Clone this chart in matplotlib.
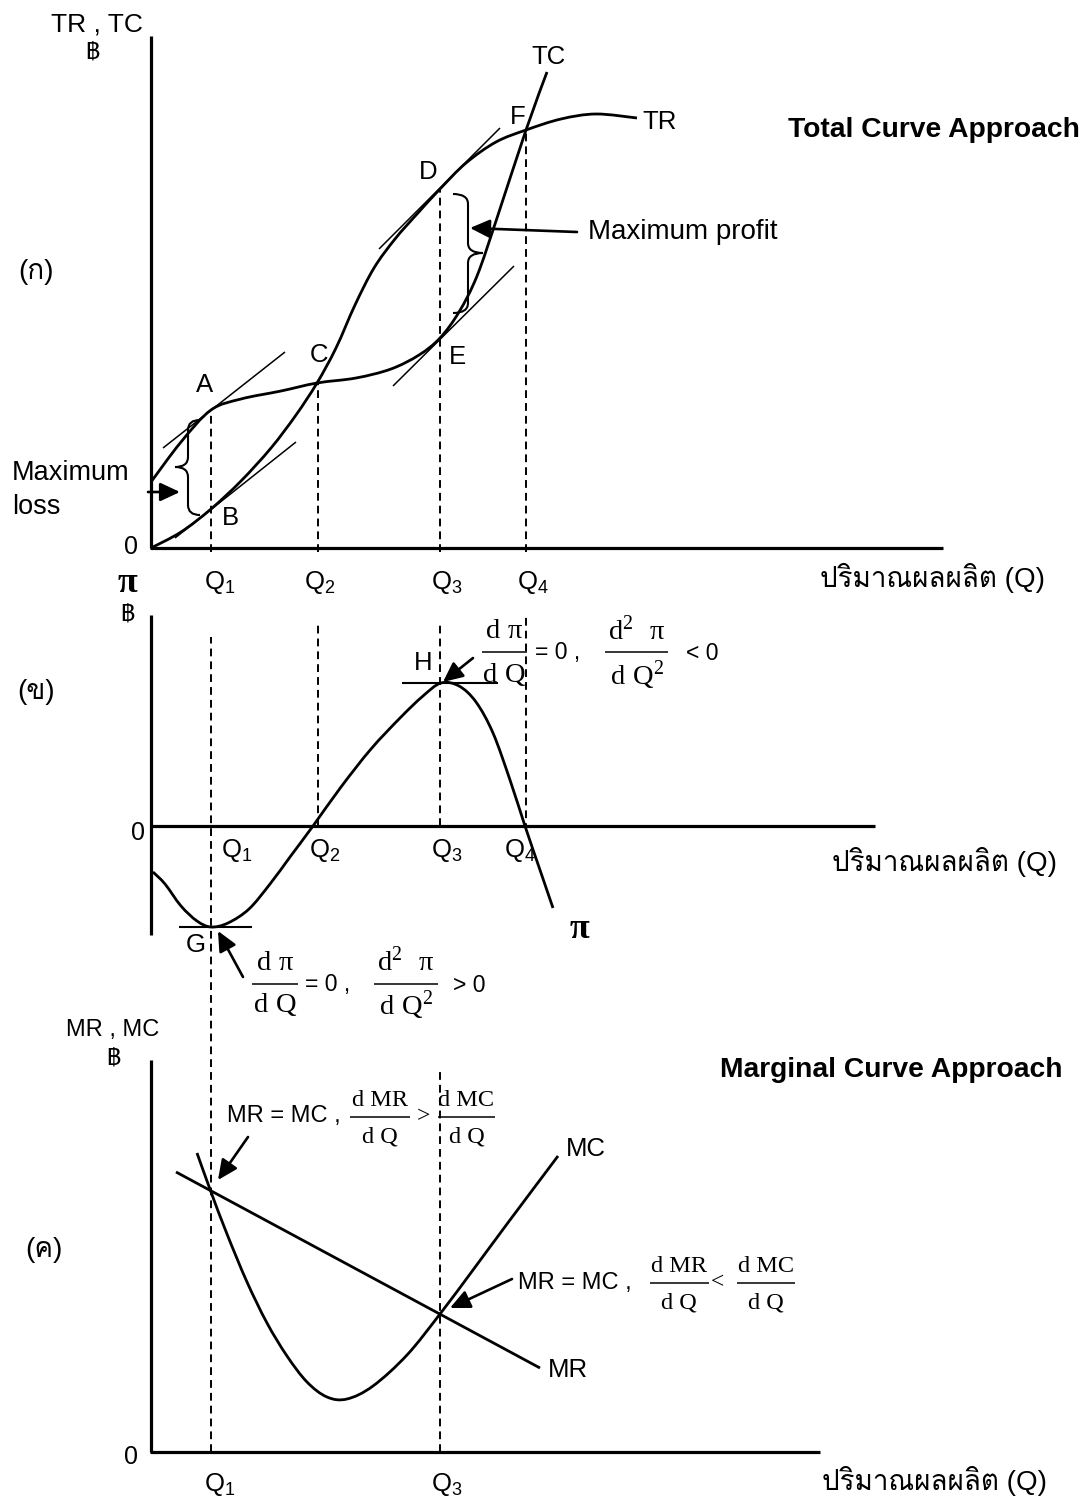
import numpy as np
import matplotlib
matplotlib.use("Agg")
import matplotlib.pyplot as plt
from matplotlib.path import Path
from matplotlib.patches import PathPatch

plt.rcParams['font.family'] = ['Liberation Sans', 'Loma', 'DejaVu Sans']
plt.rcParams['mathtext.fontset'] = 'custom'
plt.rcParams['mathtext.rm'] = 'Liberation Sans'
plt.rcParams['mathtext.it'] = 'Liberation Sans:italic'
plt.rcParams['mathtext.sf'] = 'Liberation Serif'
SERIF = ['Liberation Serif', 'DejaVu Serif']

# output levels marked on the Q axis
q_names = ['Q$_{1}$', 'Q$_{2}$', 'Q$_{3}$', 'Q$_{4}$']
q_pos = [6.0, 16.7, 28.9, 37.5]
q_axis_label = 'ปริมาณผลผลิต (Q)'

# total cost (starts at the fixed cost) and total revenue
tc_q = [0.0, 3.0, 6.0, 9.0, 13.0, 16.6, 20.5, 24.0, 26.8, 28.9, 30.8, 32.6, 34.6,
        37.5, 39.6]
tc_val = [6.6, 10.6, 13.8, 14.9, 15.7, 16.5, 17.0, 17.9, 19.3, 21.0, 23.6, 27.2, 33.0,
          41.8, 47.6]
tr_q = [0.0, 3.0, 6.0, 9.0, 12.0, 14.5, 16.6, 18.5, 20.4, 22.3, 24.4, 26.6, 28.9,
        31.5, 34.5, 37.5, 41.0, 44.5, 48.6]
tr_val = [0.0, 1.6, 3.9, 6.7, 10.0, 13.3, 16.5, 20.0, 24.3, 28.0, 30.9, 33.4, 35.9,
          38.5, 40.6, 41.8, 42.9, 43.4, 43.0]

# profit = TR - TC
pi_q = [0.2, 1.4, 3.0, 4.6, 6.0, 7.7, 9.8, 11.9, 13.9, 16.2, 19.0, 22.0, 25.0,
        27.2, 29.0, 30.8, 32.5, 34.2, 35.9, 37.4, 38.9, 40.2]
pi_val = [-4.6, -5.8, -8.0, -9.5, -10.1, -9.7, -8.3, -5.8, -3.1, 0.0, 3.9, 7.7, 10.9,
          13.0, 14.3, 14.0, 12.4, 9.3, 4.6, 0.0, -4.4, -8.2]

# marginal revenue (straight line) and marginal cost
mr_q = [2.5, 38.9]
mr_val = [28.0, 8.4]
mc_q = [4.6, 6.0, 7.6, 9.6, 11.6, 13.6, 15.6, 17.6, 19.6, 22.2, 25.6, 28.9, 32.2,
        35.6, 40.7]
mc_val = [29.9, 26.0, 21.8, 17.0, 12.9, 9.6, 7.0, 5.5, 5.3, 6.6, 9.7, 13.8, 18.2,
          22.8, 29.6]

# derivative terms of the optimum conditions
d_pi = r'$\mathsf{d\ π}$'
d2_pi = r'$\mathsf{d}^{\mathsf{2}}\mathsf{\ \ π}$'
d_q = r'$\mathsf{d\ Q}$'
d_q2 = r'$\mathsf{d\ Q}^{\mathsf{2}}$'


def smooth_path(xs, ys):
    pts = np.column_stack([xs, ys]).astype(float)
    n = len(pts)
    verts = [pts[0]]
    codes = [Path.MOVETO]
    for i in range(n - 1):
        p0 = pts[i - 1] if i > 0 else pts[i]
        p1, p2 = pts[i], pts[i + 1]
        p3 = pts[i + 2] if i + 2 < n else pts[i + 1]
        verts += [p1 + (p2 - p0) / 6, p2 - (p3 - p1) / 6, p2]
        codes += [Path.CURVE4] * 3
    return Path(verts, codes)


def curve(ax, xs, ys, lw=2.0):
    ax.add_patch(PathPatch(smooth_path(xs, ys), fill=False, lw=lw, ec='black',
                           clip_on=False))


def seg(ax, xs, ys, lw=1.1):
    ax.plot(xs, ys, color='black', lw=lw, clip_on=False, solid_capstyle='butt')


def dashed(ax, x, y0, y1):
    ax.plot([x, x], [y0, y1], color='black', lw=1.4, ls=(0, (4, 2.6)), clip_on=False)


def arrow(ax, start, tip):
    ax.annotate('', xy=tip, xytext=start, annotation_clip=False,
                arrowprops=dict(arrowstyle='-|>,head_length=0.6,head_width=0.28',
                                mutation_scale=20, lw=1.9, color='black',
                                shrinkA=0, shrinkB=0))


def brace(ax, x, tip, end, y0, y1, ym, r=1.0, lw=1.5):
    verts = [(end, y0), (x, y0), (x, y0 + r), (x, ym - r), (x, ym), (tip, ym),
             (x, ym), (x, ym + r), (x, y1 - r), (x, y1), (end, y1)]
    codes = [Path.MOVETO, Path.CURVE3, Path.CURVE3, Path.LINETO, Path.CURVE3, Path.CURVE3,
             Path.CURVE3, Path.CURVE3, Path.LINETO, Path.CURVE3, Path.CURVE3]
    ax.add_patch(PathPatch(Path(verts, codes), fill=False, lw=lw, ec='black',
                           clip_on=False))


def frac(ax, xc, ybar, num, den, width, fs, up, down):
    ax.text(xc, ybar + up, num, ha='center', va='center', fontsize=fs, family=SERIF)
    seg(ax, [xc - width / 2, xc + width / 2], [ybar, ybar], lw=1.1)
    ax.text(xc, ybar - down, den, ha='center', va='center', fontsize=fs, family=SERIF)


W, H = 1089, 1504
fig = plt.figure(figsize=(W / 100, H / 100), dpi=100)
fig.patch.set_facecolor('white')

# ---------------- (ก) total curve approach ----------------
axA = fig.add_axes([151 / W, (H - 548) / H, 800 / W, 510 / H])
axA.set_xlim(0, 80)
axA.set_ylim(0, 51)
axA.set_axis_off()

seg(axA, [0, 0], [0, 51.2], lw=2.3)
seg(axA, [-0.1, 79.2], [0, 0], lw=2.3)
curve(axA, tc_q, tc_val)
curve(axA, tr_q, tr_val)

# tangents at A, B, D, E
seg(axA, [1.2, 13.4], [10.0, 19.6])
seg(axA, [2.4, 14.5], [1.0, 10.6])
seg(axA, [22.8, 34.9], [29.9, 42.0])
seg(axA, [24.2, 36.3], [16.2, 28.2])

for q, top in zip(q_pos, [13.8, 16.5, 35.9, 41.8]):
    dashed(axA, q, -0.4, top)

brace(axA, 3.7, 2.4, 4.9, 3.3, 12.8, 8.1)
brace(axA, 31.7, 33.2, 30.2, 23.5, 35.4, 29.5)
arrow(axA, (-0.3, 5.6), (2.9, 5.6))
arrow(axA, (42.6, 31.6), (31.9, 32.0))

for s, x, y in [('A', 5.4, 16.3), ('B', 7.9, 3.0), ('C', 16.8, 19.3), ('D', 27.7, 37.6),
                ('E', 30.6, 19.1), ('F', 36.7, 43.1), ('TC', 39.8, 49.1), ('TR', 50.9, 42.6)]:
    axA.text(x, y, s, ha='center', va='center', fontsize=18.5)

axA.text(-5.4, 52.4, 'TR , TC', ha='center', va='center', fontsize=19)
axA.text(-5.9, 49.6, '฿', ha='center', va='center', fontsize=17)
axA.text(-2.0, 0.1, '0', ha='center', va='center', fontsize=18)
axA.text(-11.5, 27.6, '(ก)', ha='center', va='center', fontsize=20)
axA.text(92.9, 41.8, 'Total Curve Approach', ha='right', va='center', fontsize=20.3,
         fontweight='bold')
axA.text(43.7, 31.6, 'Maximum profit', ha='left', va='center', fontsize=20)
axA.text(-13.9, 7.5, 'Maximum', ha='left', va='center', fontsize=19.5)
axA.text(-13.9, 4.1, 'loss', ha='left', va='center', fontsize=19.5)
for name, x in zip(q_names, [6.9, 16.9, 29.6, 38.2]):
    axA.text(x, -3.4, name, ha='center', va='center', fontsize=18.5)
axA.text(89.4, -3.0, q_axis_label, ha='right', va='center', fontsize=20)

# ---------------- (ข) profit curve ----------------
axB = fig.add_axes([151 / W, (H - 960) / H, 800 / W, 360 / H])
axB.set_xlim(0, 80)
axB.set_ylim(-13.4, 22.6)
axB.set_axis_off()

seg(axB, [0, 0], [-10.9, 21.1], lw=2.3)
seg(axB, [0, 72.4], [0, 0], lw=2.3)
curve(axB, pi_q, pi_val)
seg(axB, [25.1, 34.7], [14.3, 14.3], lw=1.5)
seg(axB, [2.8, 10.1], [-10.1, -10.1], lw=1.5)

dashed(axB, q_pos[0], -62.6, 18.9)
dashed(axB, q_pos[1], 0, 20.3)
dashed(axB, q_pos[2], 0, 20.4)
dashed(axB, q_pos[3], -0.5, 21.1)

axB.text(-2.4, 24.3, 'π', ha='center', va='center', fontsize=26, family=SERIF,
         fontweight='bold')
axB.text(-2.4, 21.1, '฿', ha='center', va='center', fontsize=17)
axB.text(-1.3, -0.7, '0', ha='center', va='center', fontsize=18)
axB.text(-11.5, 13.4, '(ข)', ha='center', va='center', fontsize=20)
axB.text(27.2, 16.3, 'H', ha='center', va='center', fontsize=18.5)
axB.text(4.5, -11.9, 'G', ha='center', va='center', fontsize=18.5)
for name, x in zip(q_names, [8.6, 17.4, 29.6, 36.9]):
    axB.text(x, -2.4, name, ha='center', va='center', fontsize=18.5)
axB.text(90.6, -3.6, q_axis_label, ha='right', va='center', fontsize=20)
axB.text(42.8, -10.3, 'π', ha='center', va='center', fontsize=26, family=SERIF,
         fontweight='bold')

arrow(axB, (32.2, 16.8), (29.2, 14.4))
frac(axB, 35.35, 17.4, d_pi, d_q, 4.5, 20.5, 2.0, 2.3)
axB.text(40.7, 17.3, '= 0 ,', ha='center', va='center', fontsize=16.5)
frac(axB, 48.55, 17.4, d2_pi, d_q2, 6.3, 20.5, 2.1, 2.3)
axB.text(55.1, 17.3, '< 0', ha='center', va='center', fontsize=16.5)

arrow(axB, (9.2, -15.1), (6.7, -10.5))
frac(axB, 12.4, -15.8, d_pi, d_q, 4.6, 20.5, 2.1, 2.1)
axB.text(17.65, -15.9, '= 0 ,', ha='center', va='center', fontsize=16.5)
frac(axB, 25.5, -15.8, d2_pi, d_q2, 6.4, 20.5, 2.2, 2.1)
axB.text(31.8, -15.9, '> 0', ha='center', va='center', fontsize=16.5)

# ---------------- (ค) marginal curve approach ----------------
axC = fig.add_axes([151 / W, (H - 1452) / H, 800 / W, 412 / H])
axC.set_xlim(0, 80)
axC.set_ylim(0, 41.2)
axC.set_axis_off()

seg(axC, [0, 0], [0, 39.2], lw=2.3)
seg(axC, [-0.1, 66.9], [0, 0], lw=2.3)
seg(axC, mr_q, mr_val, lw=2.0)
curve(axC, mc_q, mc_val)
dashed(axC, q_pos[2], 0, 38.4)

axC.text(-3.8, 42.2, 'MR , MC', ha='center', va='center', fontsize=17)
axC.text(-3.8, 39.4, '฿', ha='center', va='center', fontsize=17)
axC.text(-2.0, -0.5, '0', ha='center', va='center', fontsize=18)
axC.text(-10.7, 20.2, '(ค)', ha='center', va='center', fontsize=20)
axC.text(6.9, -3.2, q_names[0], ha='center', va='center', fontsize=18.5)
axC.text(29.6, -3.2, q_names[2], ha='center', va='center', fontsize=18.5)
axC.text(89.6, -2.9, q_axis_label, ha='right', va='center', fontsize=20)
axC.text(91.2, 38.2, 'Marginal Curve Approach', ha='right', va='center', fontsize=20.3,
         fontweight='bold')
axC.text(43.5, 30.3, 'MC', ha='center', va='center', fontsize=18.5)
axC.text(41.7, 8.2, 'MR', ha='center', va='center', fontsize=18.5)

arrow(axC, (9.7, 31.5), (6.7, 27.2))
axC.text(7.6, 33.6, 'MR = MC ,', ha='left', va='center', fontsize=17)
frac(axC, 22.9, 33.5, 'd MR', 'd Q', 6.0, 17.5, 1.6, 2.0)
axC.text(27.2, 33.5, '>', ha='center', va='center', fontsize=17, family=SERIF)
frac(axC, 31.55, 33.5, 'd MC', 'd Q', 5.7, 17.5, 1.6, 2.0)

arrow(axC, (36.1, 17.3), (29.9, 14.4))
axC.text(36.7, 16.9, 'MR = MC ,', ha='left', va='center', fontsize=17)
frac(axC, 52.8, 16.9, 'd MR', 'd Q', 5.9, 17.5, 1.6, 2.0)
axC.text(56.6, 16.9, '<', ha='center', va='center', fontsize=17, family=SERIF)
frac(axC, 61.5, 16.9, 'd MC', 'd Q', 5.8, 17.5, 1.6, 2.0)

fig.savefig('out.png', dpi=100, facecolor='white')
